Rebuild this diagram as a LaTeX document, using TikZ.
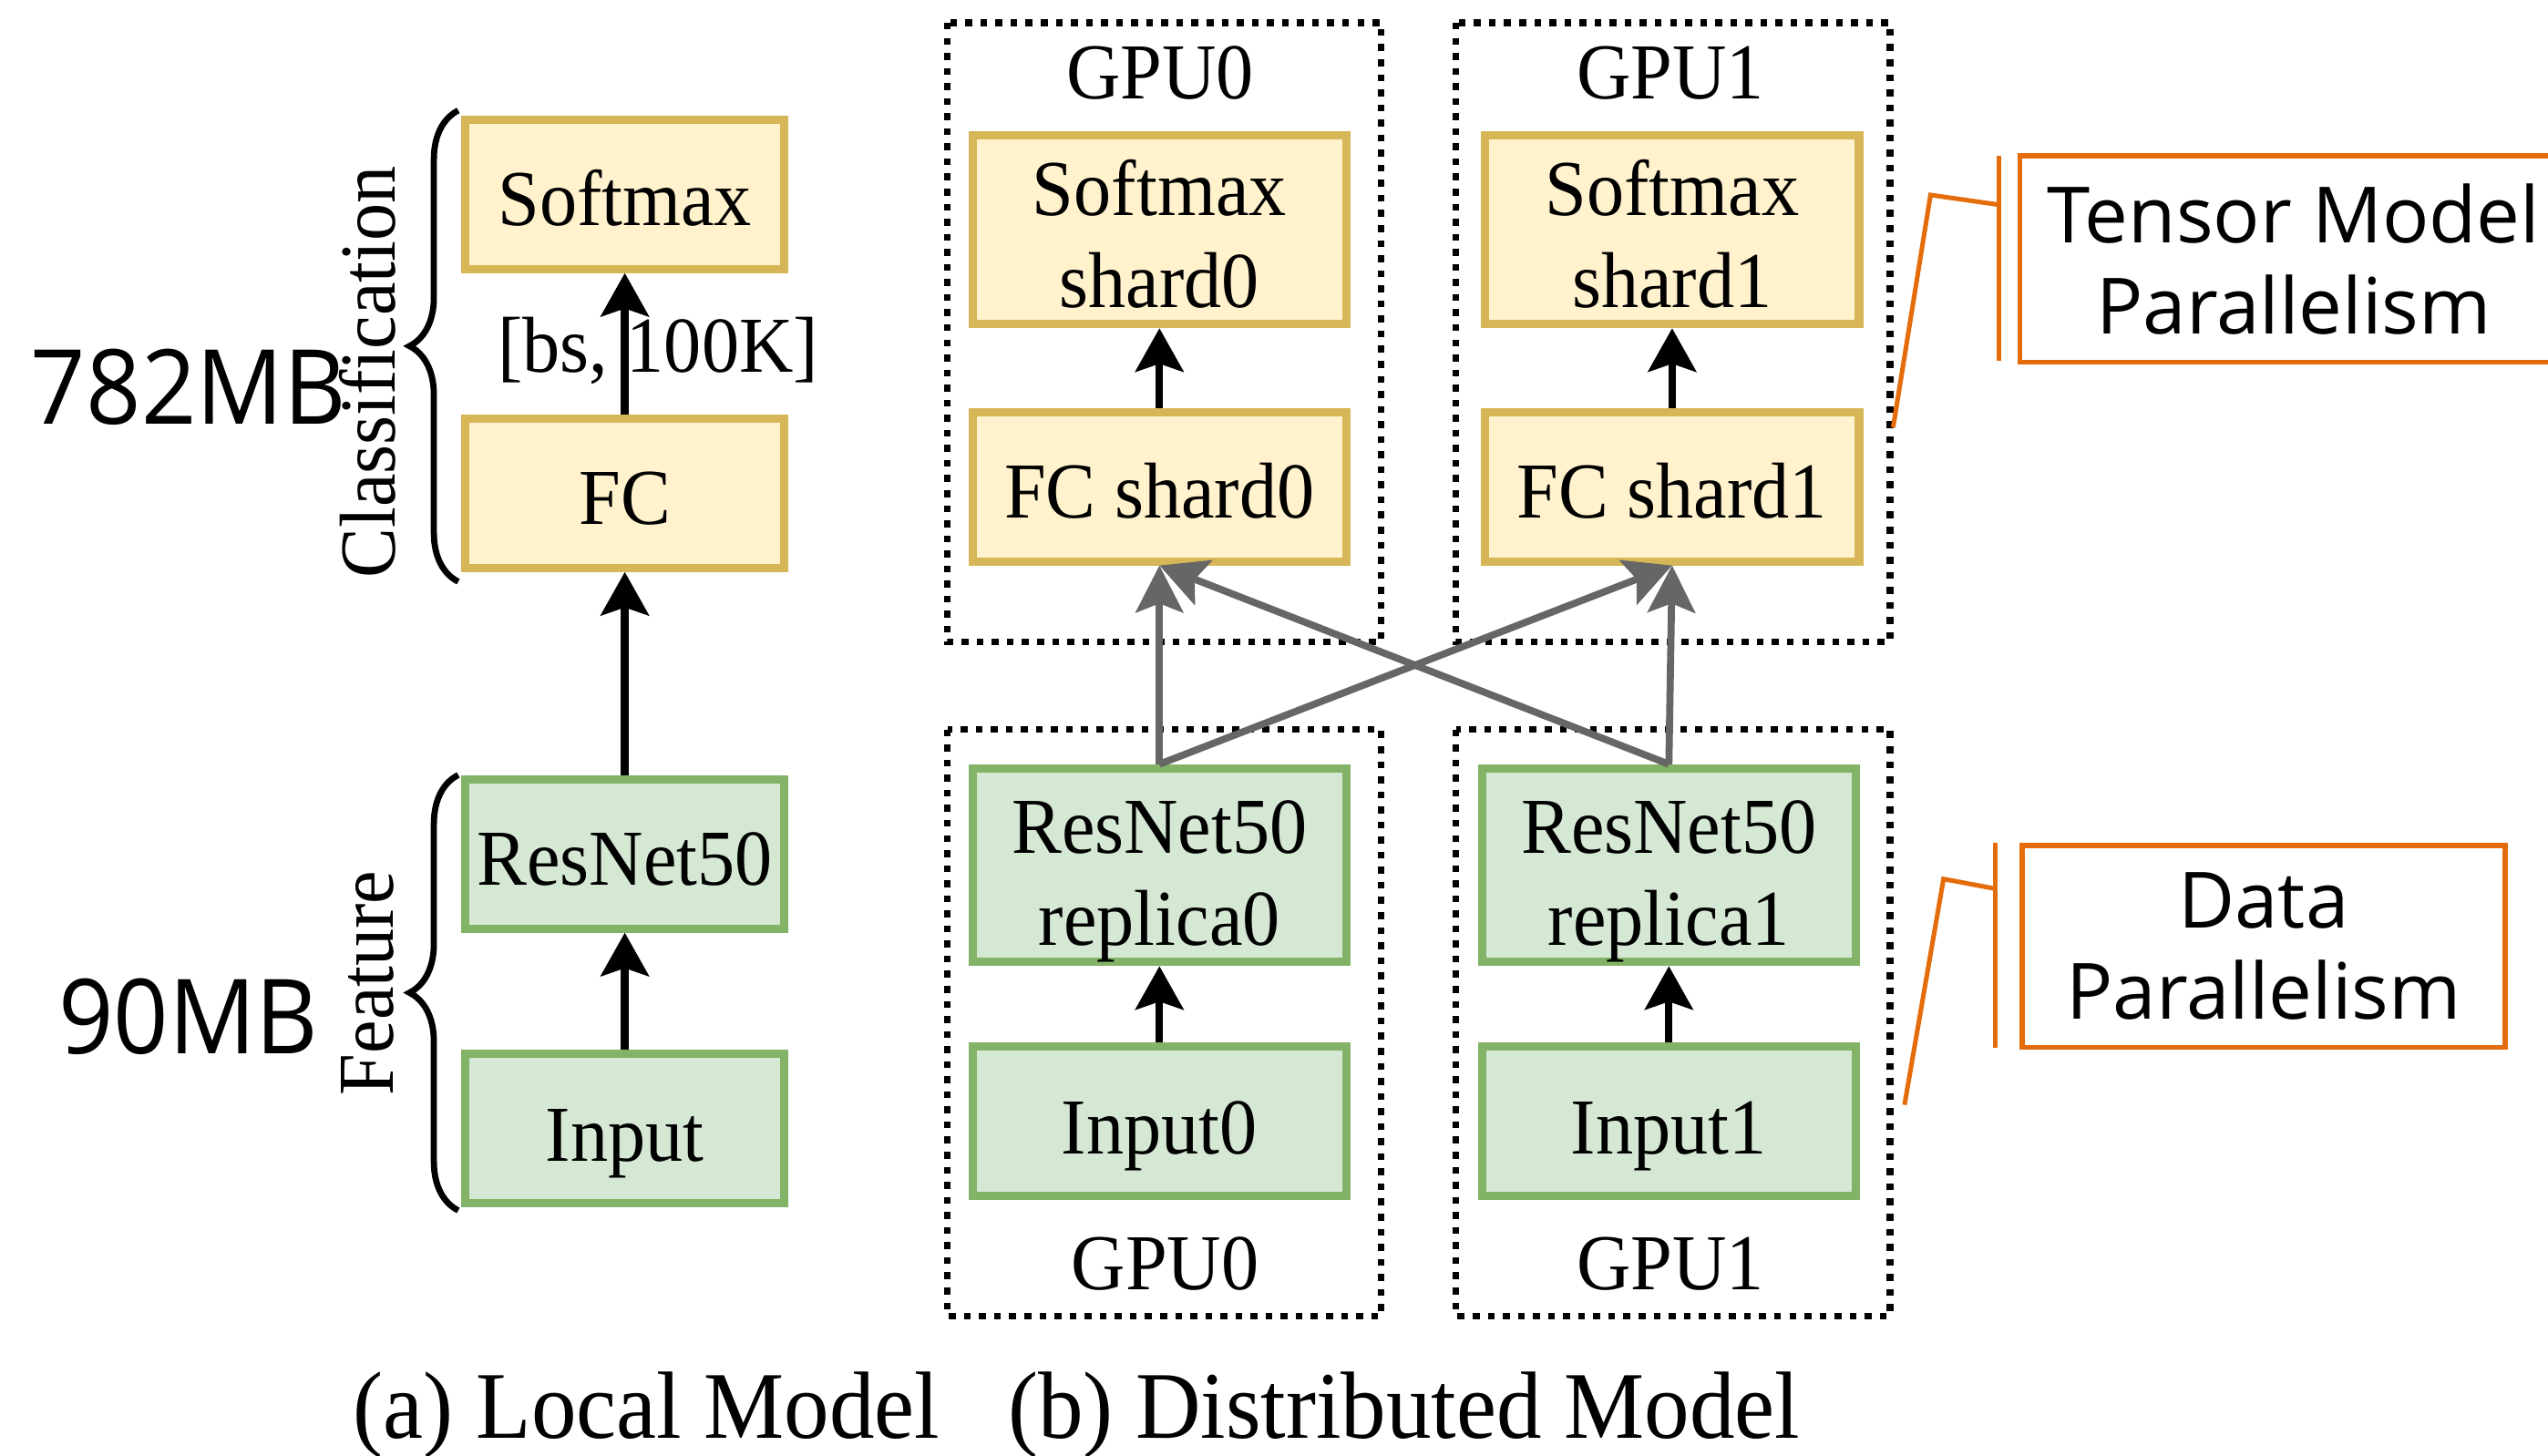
\documentclass[tikz,border=0pt]{standalone}
\usepackage{fontspec}
\setmainfont[FakeStretch=0.945]{Liberation Serif}
\newfontfamily\sizesans[FakeStretch=0.93]{Open Sans}
\newfontfamily\notesans{Open Sans}
\usetikzlibrary{arrows.meta,decorations.pathreplacing}
\definecolor{yfill}{HTML}{FFF2CC}
\definecolor{ydraw}{HTML}{D6B656}
\definecolor{gfill}{HTML}{D5E8D4}
\definecolor{gdraw}{HTML}{82B366}
\definecolor{calloutc}{HTML}{E46C0A}
\definecolor{crossc}{HTML}{666666}
% zero-width strut that sets how low the text block sits in its box
\newcommand\lowerstrut[1]{\rule{0pt}{#1}}
\begin{document}
\begin{tikzpicture}[x=0.025cm,y=-0.025cm,
  strutted/.style={execute at begin node={\lowerstrut{#1}}},
  layer/.style={draw, line width=3.6pt, inner sep=0pt, align=center,
    font=\fontsize{34.7}{40.4}\selectfont, strutted=28pt},
  deep/.style={strutted=36pt},
  clslayer/.style={layer, fill=yfill, draw=ydraw},
  featlayer/.style={layer, fill=gfill, draw=gdraw},
  narrowbox/.style={minimum width=4.9cm, minimum height=2.3cm},
  widebox/.style={minimum width=5.75cm, minimum height=2.3cm},
  tallbox/.style={minimum width=5.75cm, minimum height=2.9cm},
  seriftext/.style={inner sep=0pt, font=\fontsize{34.7}{40.4}\selectfont},
  sizetext/.style={inner sep=0pt, font=\sizesans\fontsize{45.4}{52}\selectfont},
  captiontext/.style={inner sep=0pt, anchor=base, font=\fontsize{41.8}{48}\selectfont},
  flow/.style={draw=black, line width=3.3pt,
    -{Stealth[length=19pt, width=21pt, inset=3.5pt]}},
  cross/.style={draw=crossc, line width=3.1pt,
    -{Stealth[length=20.6pt, width=20.8pt, inset=4pt]}},
  gpubox/.style={draw=black, line width=3pt, dash pattern=on 3pt off 3.6pt},
  bracket/.style={draw=black, line width=2.7pt, decorate,
    decoration={brace, amplitude=0.75cm}},
  calloutline/.style={draw=calloutc, line width=2pt},
  calloutbox/.style={draw=calloutc, line width=2.2pt, inner sep=0pt, align=center,
    font=\notesans\fontsize{34}{39.7}\selectfont},
]
\useasboundingbox (0,0) rectangle (1568,896);
\clip (0,0) rectangle (1568,896);

% ---------- (a) local model ----------
\node[clslayer, narrowbox] (sm) at (384.5,119.5) {Softmax};
\node[clslayer, narrowbox] (fc) at (384.5,303.5) {FC};
\node[featlayer, narrowbox] (rn) at (384.5,525.5) {ResNet50};
\node[featlayer, narrowbox, deep] (in) at (384.5,694.5) {Input};

\draw[flow] (in) -- (rn);
\draw[flow] (rn) -- (fc);
\draw[flow] (fc) -- (sm);
\node[seriftext] (shape) at (405,216) {[bs, 100K]};

\draw[bracket] (282,358) -- (282,68);
\draw[bracket] (282,745) -- (282,477);
\node[seriftext, rotate=90] (cls) at (226,229) {Classification};
\node[seriftext, rotate=90] (feat) at (226,605) {Feature};
\node[sizetext] (clsmem) at (116,238) {782MB};
\node[sizetext] (featmem) at (116,626) {90MB};

% ---------- (b) distributed model ----------
\draw[gpubox] (583,14) rectangle (850,395);
\draw[gpubox] (896,14) rectangle (1163,395);
\draw[gpubox] (583,449) rectangle (850,810);
\draw[gpubox] (896,449) rectangle (1163,810);

\node[seriftext] (g0t) at (714,45) {GPU0};
\node[seriftext] (g1t) at (1028,45) {GPU1};
\node[seriftext] (g0b) at (717,778) {GPU0};
\node[seriftext] (g1b) at (1028,778) {GPU1};

\node[clslayer, tallbox] (sm0) at (713.5,141.5) {\lowerstrut{28pt}Softmax\\shard0};
\node[clslayer, widebox] (fc0) at (713.5,299.5) {FC shard0};
\node[clslayer, tallbox] (sm1) at (1029,141.5) {\lowerstrut{28pt}Softmax\\shard1};
\node[clslayer, widebox] (fc1) at (1029,299.5) {FC shard1};
\node[featlayer, tallbox] (rn0) at (713.5,532.5) {\lowerstrut{37pt}ResNet50\\replica0};
\node[featlayer, widebox, deep] (in0) at (713.5,690) {Input0};
\node[featlayer, tallbox] (rn1) at (1027,532.5) {\lowerstrut{37pt}ResNet50\\replica1};
\node[featlayer, widebox, deep] (in1) at (1027,690) {Input1};

\draw[flow] (fc0) -- (sm0);
\draw[flow] (fc1) -- (sm1);
\draw[flow] (in0) -- (rn0);
\draw[flow] (in1) -- (rn1);

\draw[cross] (rn0.north) -- (fc0.south);
\draw[cross] (rn0.north) -- (fc1.south);
\draw[cross] (rn1.north) -- (fc1.south);
\draw[cross] (rn1.north) -- (fc0.south);

% ---------- callouts ----------
\node[calloutbox, minimum width=8.425cm, minimum height=3.175cm] (tmp) at (1411.5,159.5)
  {Tensor Model\\Parallelism};
\coordinate (tmpbar) at (1230,126);
\coordinate (tmpknee) at (1188,120);
\coordinate (tmpend) at (1165,263);
\draw[calloutline] (1230,96) -- (1230,222);
\draw[calloutline] (tmpbar) -- (tmpknee) -- (tmpend);

\node[calloutbox, minimum width=7.425cm, minimum height=3.1cm] (dp) at (1393,582.5)
  {Data\\Parallelism};
\coordinate (dpbar) at (1228,547);
\coordinate (dpknee) at (1196,541);
\coordinate (dpend) at (1172,680);
\draw[calloutline] (1228,519) -- (1228,645);
\draw[calloutline] (dpbar) -- (dpknee) -- (dpend);

% ---------- captions ----------
\node[captiontext] (capa) at (398,885) {(a) Local Model};
\node[captiontext] (capb) at (864,885) {(b) Distributed Model};
\end{tikzpicture}
\end{document}
